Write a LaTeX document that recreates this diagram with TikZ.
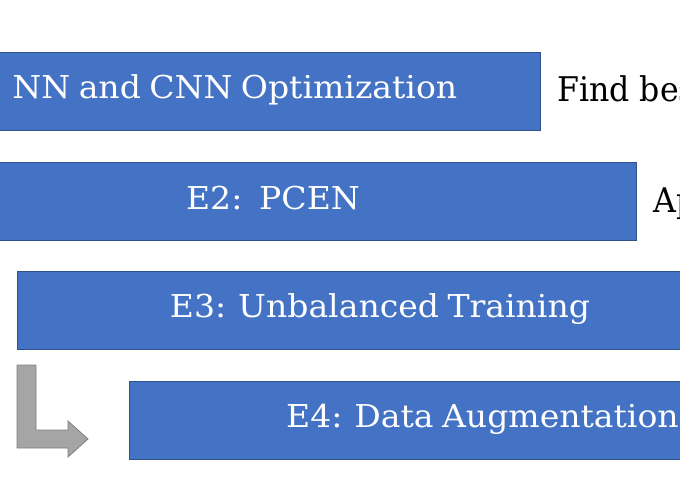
\documentclass[tikz,border=0pt]{standalone}
\usepackage{fontspec}
\setmainfont{DejaVu Serif}
\newfontfamily\barfont{DejaVu Serif}[FakeStretch=1.05, WordSpace=0.8]
\newfontfamily\notefont{DejaVu Serif}[FakeStretch=0.93]
\definecolor{barblue}{HTML}{4472C4}
\definecolor{barline}{HTML}{2F528F}
\definecolor{arrgray}{HTML}{A5A5A5}
\definecolor{arrline}{HTML}{7F7F7F}
\begin{document}
\begin{tikzpicture}[x=1pt,y=-1pt,
  bar/.style={draw=barline, line width=0.8pt, fill=barblue, rectangle, inner sep=0pt, minimum height=78pt},
  bartext/.style={text=white, font=\barfont\fontsize{31.5}{38}\selectfont, inner sep=0pt},
  note/.style={text=black, font=\notefont\fontsize{34}{40}\selectfont, inner sep=0pt, anchor=base west},
  arrowshape/.style={fill=arrgray, draw=arrline, line width=0.8pt, line join=miter}]
\useasboundingbox (0,0) rectangle (680,500);
\clip (0,0) rectangle (680,500);
% bars
\node[bar, minimum width=725pt, anchor=north west] (b1) at (-185,52) {};
\node[bar, minimum width=726pt, anchor=north west] (b2) at (-90,162) {};
\node[bar, minimum width=725pt, anchor=north west] (b3) at (17,271) {};
\node[bar, minimum width=726pt, anchor=north west] (b4) at (129,381) {};
% bar texts
\node[bartext, anchor=base east] (t1) at (457.5,99) {NN and CNN Optimization};
\node[bartext, anchor=base] (t2) at (273,209) {E2:\ \ PCEN};
\node[bartext, anchor=base] (t3) at (380,317) {E3: Unbalanced Training};
\node[bartext, anchor=base west] (t4) at (286,427) {E4: Data Augmentation};
% side notes
\node[note] (n1) at (557,102) {Find bes};
\node[note] (n2) at (653,212) {Ap};
% bent arrow
\draw[arrowshape] (17,365) -- (36,365) -- (36,430) -- (68,430) -- (68,421)
  -- (88,439) -- (68,457) -- (68,448) -- (17,448) -- cycle;
\end{tikzpicture}
\end{document}
